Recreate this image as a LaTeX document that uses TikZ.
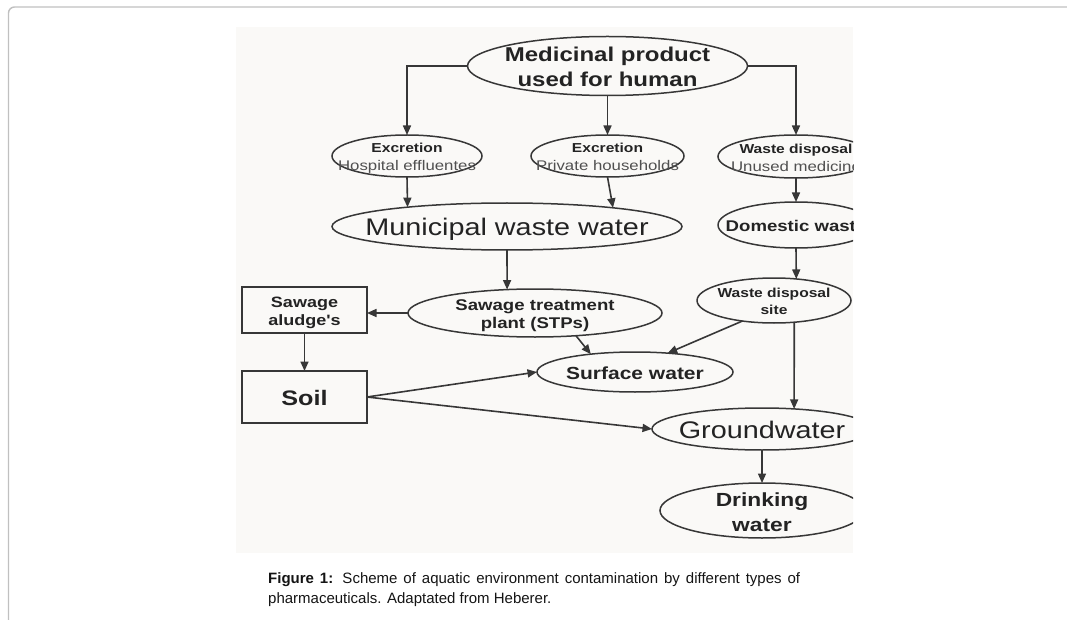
\documentclass[tikz,border=0pt]{standalone}
\usepackage{fontspec}
\setmainfont{Liberation Sans}
\newfontfamily\dfont[FakeStretch=1.2]{Liberation Sans}
\usetikzlibrary{shapes.geometric,arrows.meta}
\definecolor{bgc}{RGB}{250,249,247}
\definecolor{framec}{RGB}{192,192,192}
\definecolor{linec}{RGB}{55,55,55}
\definecolor{txtc}{RGB}{35,35,35}
\definecolor{subc}{RGB}{80,80,80}
\definecolor{capc}{RGB}{20,20,20}
\newcommand\fs[2]{\fontsize{#1}{#2}\selectfont}
\newcommand\ct[1]{\makebox[0pt]{\raisebox{-0.41em}{\begin{tabular}{@{}c@{}}#1\end{tabular}}}}
\tikzset{
  ell/.style={ellipse, draw=linec, line width=1.5pt, fill=bgc, inner sep=0pt, outer sep=0pt,
    text height=0pt, text depth=0pt, text=txtc},
  boxn/.style={rectangle, draw=linec, line width=1.6pt, fill=bgc, inner sep=0pt, outer sep=0pt,
    text height=0pt, text depth=0pt, text=txtc},
  conn/.style={draw=linec, line width=1.6pt, -{Triangle[length=9.5pt,width=8pt]}},
}
\begin{document}
\begin{tikzpicture}[x=1pt,y=-1pt]
\useasboundingbox (0,0) rectangle (1067,620);
% page frame
\draw[framec, line width=1.4pt, rounded corners=6pt] (8.5,640) -- (8.5,7) -- (1080,7);
% figure background
\fill[bgc] (236,27) rectangle (853,553);
\begin{scope}
\clip (236,27) rectangle (853,553);
\node[ell, minimum width=280pt, minimum height=59pt, font=\dfont\bfseries\fs{20}{25}] (med) at (607.5,66) {\ct{Medicinal product\\used for human}};
\node[ell, minimum width=150pt, minimum height=42pt, font=\dfont\bfseries\fs{13}{18}] (ex1) at (407,156) {\ct{Excretion\\{\mdseries\color{subc}\fs{14}{18}Hospital effluentes}}};
\node[ell, minimum width=153pt, minimum height=42pt, font=\dfont\bfseries\fs{13}{18}] (ex2) at (607.5,156) {\ct{Excretion\\{\mdseries\color{subc}\fs{14}{18}Private households}}};
\node[ell, minimum width=156pt, minimum height=43pt, font=\dfont\bfseries\fs{13}{18}] (wd) at (796,156.5) {\ct{Waste disposal\\{\mdseries\color{subc}\fs{14}{18}Unused medicine}}};
\node[ell, minimum width=350pt, minimum height=47pt, font=\dfont\fs{24}{28}] (mww) at (507,226.5) {\ct{Municipal waste water}};
\node[ell, minimum width=156pt, minimum height=46pt, font=\dfont\bfseries\fs{15.5}{18}] (dom) at (796,225) {\ct{Domestic waste}};
\node[ell, minimum width=254pt, minimum height=48pt, font=\dfont\bfseries\fs{15.5}{17.5}] (stp) at (535,313) {\ct{Sawage treatment\\plant (STPs)}};
\node[boxn, minimum width=125pt, minimum height=46pt, font=\dfont\bfseries\fs{15}{18}] (sludge) at (304.5,310) {\ct{Sawage\\aludge's}};
\node[boxn, minimum width=125pt, minimum height=52pt, font=\dfont\bfseries\fs{21}{25}] (soil) at (304.5,397) {\ct{Soil}};
\node[ell, minimum width=154pt, minimum height=45pt, font=\dfont\bfseries\fs{13}{17}] (wds) at (774,300.5) {\ct{Waste disposal\\site}};
\node[ell, minimum width=196pt, minimum height=40pt, font=\dfont\bfseries\fs{17.5}{21}] (sw) at (635,372) {\ct{Surface water}};
\node[ell, minimum width=220pt, minimum height=42pt, font=\dfont\fs{24}{28}] (gw) at (762,429) {\ct{Groundwater}};
\node[ell, minimum width=204pt, minimum height=55pt, font=\dfont\bfseries\fs{19}{25}] (dw) at (762,510.5) {\ct{Drinking\\water}};
% connectors
\draw[conn] (med.west) -| (ex1.north);
\draw[conn] (med.east) -| (wd.north);
\draw[conn] (med.south) -- (ex2.north);
\draw[conn] (ex1.south) -- (mww.169.1);
\draw[conn] (ex2.south) -- (mww.10.9);
\draw[conn] (wd.south) -- (dom.north);
\draw[conn] (mww.south) -- (stp.140.1);
\draw[conn] (dom.south) -- (wds.44.4);
\draw[conn] (stp.west) -- (stp.west -| sludge.east);
\draw[conn] (sludge.south) -- (soil.north);
\draw[conn] (stp.-29) -- (sw.158);
\draw[conn] (wds.-147) -- (sw.30);
\draw[conn] (soil.east) -- (sw.west);
\draw[conn] (soil.east) -- (gw.west);
\draw[conn] (wds.-47.3) -- (gw.32.1);
\draw[conn] (gw.south) -- (dw.north);
\end{scope}
% caption
\node[anchor=north west, inner sep=0pt, text width=532pt, align=justify, font=\fs{15}{20}, text=capc] (cap) at (268,572)
  {\textbf{Figure 1:} Scheme of aquatic environment contamination by different types of\linebreak pharmaceuticals. Adaptated from Heberer.};
\end{tikzpicture}
\end{document}
